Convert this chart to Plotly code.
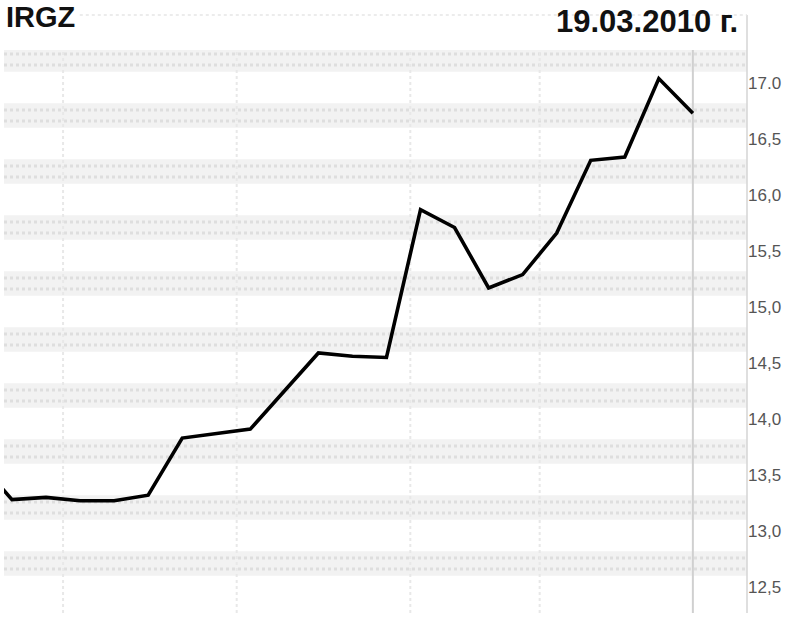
import plotly.graph_objects as go

# ---- data ----
days = [-1, 0, 1, 2, 3, 4, 5, 6, 7, 8, 9, 10, 11, 12, 13, 14, 15, 16, 17, 18, 19, 20]
price = [13.63, 13.28, 13.30, 13.27, 13.27, 13.32, 13.83, 13.87, 13.91, 14.25, 14.59,
         14.56, 14.55, 15.87, 15.71, 15.17, 15.29, 15.66, 16.31, 16.34, 17.04, 16.73]
y_ticks = [12.5, 13.0, 13.5, 14.0, 14.5, 15.0, 15.5, 16.0, 16.5, 17.0]
y_labels = ["12,5", "13,0", "13,5", "14,0", "14,5", "15,0", "15,5", "16,0", "16,5", "17.0"]
week_marks = [1.5, 6.6, 11.7, 15.5]
ticker = "IRGZ"
date_text = "19.03.2010 г."

fig = go.Figure()
fig.add_trace(go.Scatter(x=days, y=price, mode="lines",
                         line=dict(color="#000000", width=3.6), hoverinfo="skip"))

shapes = []
# textured horizontal bands (approximated)
for v in y_ticks:
    shapes.append(dict(type="rect", xref="paper", yref="y", x0=0, x1=1,
                       y0=v + 0.10, y1=v + 0.32, fillcolor="#f2f2f2",
                       line=dict(width=0), layer="below"))
    for off in (0.16, 0.26):
        shapes.append(dict(type="line", xref="paper", yref="y", x0=0, x1=1,
                           y0=v + off, y1=v + off,
                           line=dict(color="#dedede", width=3, dash="dot"), layer="below"))
# faint vertical week separators
for w in week_marks:
    shapes.append(dict(type="line", xref="x", yref="paper", x0=w, x1=w, y0=0, y1=1,
                       line=dict(color="#e8e8e8", width=2, dash="dot"), layer="below"))
# solid vertical line at last day
shapes.append(dict(type="line", xref="x", yref="paper", x0=days[-1], x1=days[-1], y0=0, y1=1,
                   line=dict(color="#d0d0d0", width=2), layer="below"))
# right frame line
shapes.append(dict(type="line", xref="paper", yref="paper", x0=1, x1=1, y0=0, y1=1.062,
                   line=dict(color="#d4d4d4", width=1.5)))
# faint top frame line
shapes.append(dict(type="line", xref="paper", yref="paper", x0=0.102, x1=1, y0=1.062, y1=1.062,
                   line=dict(color="#e6e6e6", width=1.5, dash="dot")))

fig.update_layout(
    width=800, height=640,
    margin=dict(l=4, r=53, t=50, b=27),
    paper_bgcolor="white", plot_bgcolor="white",
    showlegend=False,
    shapes=shapes,
    xaxis=dict(range=[-0.235, 21.59], showgrid=False, zeroline=False,
               showticklabels=False, showline=False, ticks=""),
    yaxis=dict(range=[12.268, 17.295], side="right", tickvals=y_ticks, ticktext=y_labels,
               showgrid=False, zeroline=False, showline=False, ticks="",
               tickfont=dict(family="Arial, Liberation Sans, sans-serif", size=17, color="#555555")),
    annotations=[
        dict(text="<b>%s</b>" % ticker, xref="paper", yref="paper", x=0, y=1.058,
             xanchor="left", yanchor="middle", showarrow=False, xshift=0,
             font=dict(family="Arial, Liberation Sans, sans-serif", size=29, color="#111111")),
        dict(text="<b>%s</b>" % date_text, xref="paper", yref="paper", x=0.9906, y=1.0515,
             xanchor="right", yanchor="middle", showarrow=False,
             font=dict(family="Arial, Liberation Sans, sans-serif", size=31, color="#111111")),
    ],
)

fig.write_html("out.html", config={"displayModeBar": False},
               post_script="document.body.style.margin='0';")
